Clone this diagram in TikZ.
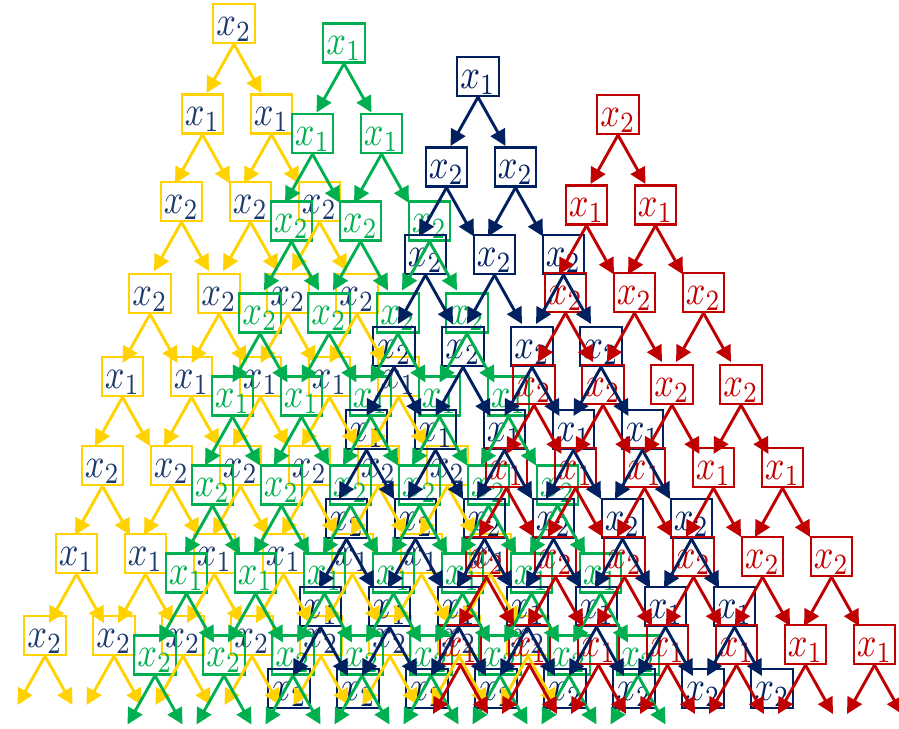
\documentclass[tikz,border=0pt]{standalone}
\usepackage{graphicx}
\usetikzlibrary{arrows.meta}
\definecolor{yel}{HTML}{FFD200}
\definecolor{ytx}{HTML}{1C3A6E}
\definecolor{grn}{HTML}{00B050}
\definecolor{nvy}{HTML}{002060}
\definecolor{rd}{HTML}{C00000}
\newcommand\xv[1]{\scalebox{3.45}[4.2]{$x_{#1}$}}
\def\LX{{234,202.5,181.5,150,122.5,102.5,76.5,45}}
\def\LY{{23.5,114,201.5,293.5,376.5,465.5,553.5,635.5}}
% #1 name, #2 dx, #3 dy, #4 border colour, #5 text colour, #6 labels, #7 last level
\newcommand\treeboxes[7]{%
  \foreach \k in {0,...,#7} {
    \pgfmathsetmacro\bx{\LX[\k]+#2}
    \pgfmathsetmacro\by{\LY[\k]+#3}
    \pgfmathtruncatemacro\lab{#6[\k]}
    \foreach \j in {0,...,\k} {
      \node[box=#4, text=#5] (#1-\k-\j) at (\bx+69*\j, \by) {\xv{\lab}};
    }
  }}
% #1 name, #2 colour, #3 last level with arrows
\newcommand\treearrows[3]{%
  \foreach \k in {0,...,#3} {
    \foreach \j in {0,...,\k} {
      \path (#1-\k-\j.center) ++(-27.5,69.5) coordinate (#1-\k-\j-l);
      \path (#1-\k-\j.center) ++(27.5,69.5) coordinate (#1-\k-\j-r);
      \draw[arr=#2] (#1-\k-\j.south) -- (#1-\k-\j-l);
      \draw[arr=#2] (#1-\k-\j.south) -- (#1-\k-\j-r);
    }
  }}
\begin{document}
\begin{tikzpicture}[x=1pt,y=-1pt,
  box/.style={draw=#1, line width=2.2pt, minimum width=41.5pt, minimum height=39pt,
    inner sep=0pt, text height=23pt, text depth=0pt},
  arr/.style={draw=#1, line width=2.9pt, -{Triangle[length=16pt,width=16pt]}}]
\useasboundingbox (0,0) rectangle (899,728);
\treeboxes{Y}{0}{0}{yel}{ytx}{{2,1,2,2,1,2,1,2}}{7}
\treeboxes{G}{110}{19.5}{grn}{grn}{{1,1,2,2,1,2,1,2}}{7}
\treeboxes{N}{244}{53}{nvy}{nvy}{{1,2,2,2,1,2,1,2}}{7}
\treeboxes{R}{384}{91}{rd}{rd}{{2,1,2,2,1,2,1}}{6}
\treearrows{Y}{yel}{7}
\treearrows{G}{grn}{7}
\treearrows{N}{nvy}{6}
\treearrows{R}{rd}{6}
\end{tikzpicture}
\end{document}
